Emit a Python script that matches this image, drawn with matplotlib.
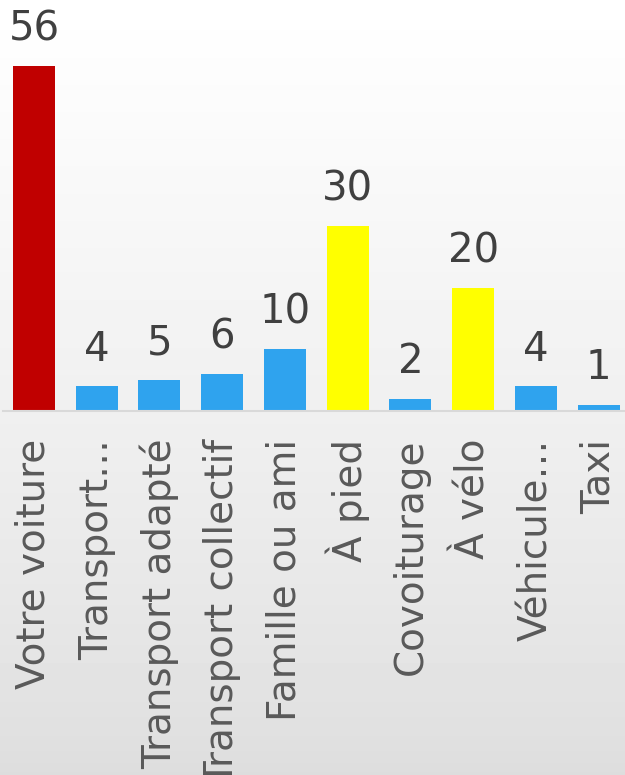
import numpy as np
import matplotlib.pyplot as plt

categories = ['Votre voiture', 'Transport…', 'Transport adapté', 'Transport collectif',
              'Famille ou ami', 'À pied', 'Covoiturage', 'À vélo', 'Véhicule…', 'Taxi']
values = [56, 4, 5, 6, 10, 30, 2, 20, 4, 1]
colors = ['#C00000', '#2FA3EE', '#2FA3EE', '#2FA3EE', '#2FA3EE',
          '#FFFF00', '#2FA3EE', '#FFFF00', '#2FA3EE', '#2FA3EE']

plt.rcParams['font.family'] = ['DejaVu Sans']

W, H = 625, 775
fig = plt.figure(figsize=(W / 100, H / 100), dpi=100)

# fond dégradé (blanc en haut, gris clair en bas)
bg = fig.add_axes([0, 0, 1, 1], zorder=0)
grad = np.linspace(1.0, 0.0, 256).reshape(-1, 1) ** 0.8
bg.imshow(grad, aspect='auto', cmap='gray', vmin=-6.5, vmax=1.0,
          extent=[0, 1, 0, 1], origin='upper')
bg.axis('off')

# axes placé en pixels : base à y=411, 6.16 px par unité
base_px = 411
px_per_unit = 6.16
top_val = base_px / px_per_unit
left_px, right_px = 2.6, 630.0
ax = fig.add_axes([left_px / W, (H - base_px) / H, (right_px - left_px) / W, base_px / H], zorder=1)
ax.patch.set_alpha(0)

x = np.arange(len(categories))
ax.bar(x, values, width=0.67, color=colors, zorder=2)
ax.set_xlim(-0.5, len(categories) - 0.5)
ax.set_ylim(0, top_val)

for xi, v in zip(x, values):
    ax.annotate(str(v), (xi, v), xytext=(0, 12), textcoords='offset points',
                ha='center', va='bottom', fontsize=29, color='#404040')

for s in ['top', 'right', 'left']:
    ax.spines[s].set_visible(False)
ax.spines['bottom'].set_color('#D9D9D9')
ax.spines['bottom'].set_linewidth(1.5)
ax.set_yticks([])
ax.set_xticks(x)
ax.set_xticklabels(categories, rotation=90, fontsize=28, color='#595959')
ax.tick_params(axis='x', length=0, pad=20)

fig.savefig('out.png', dpi=100)
